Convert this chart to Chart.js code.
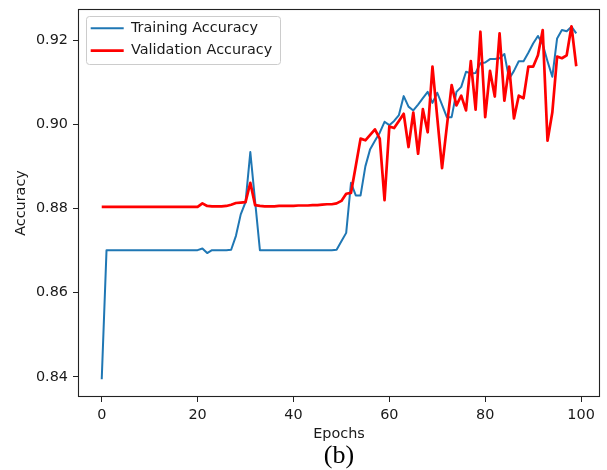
<!DOCTYPE html>
<html>
<head>
<meta charset="utf-8">
<script src="https://cdn.jsdelivr.net/npm/chart.js@4"></script>
<style>
html,body{margin:0;padding:0;background:#fff;}
canvas{display:block;}
</style>
</head>
<body>
<canvas id="c" width="607" height="470"></canvas>
<script>
// ---- data ----
const epochs = [
  0,1,2,3,4,5,6,7,8,9,10,11,12,13,14,15,16,17,18,19,
  20,21,22,23,24,25,26,27,28,29,30,31,32,33,34,35,36,37,38,39,
  40,41,42,43,44,45,46,47,48,49,50,51,52,53,54,55,56,57,58,59,
  60,61,62,63,64,65,66,67,68,69,70,71,72,73,74,75,76,77,78,79,
  80,81,82,83,84,85,86,87,88,89,90,91,92,93,94,95,96,97,98,99
];
const trainingAccuracy = [
  0.8394,
  0.8701,0.8701,0.8701,0.8701,0.8701,0.8701,0.8701,0.8701,0.8701,0.8701,
  0.8701,0.8701,0.8701,0.8701,0.8701,0.8701,0.8701,0.8701,0.8701,0.8701,
  0.8705,0.8694,0.8701,0.8701,0.8701,0.8701,0.8702,0.8735,0.8786,0.8815,
  0.8934,0.8817,0.8701,0.8701,0.8701,0.8701,0.8701,0.8701,0.8701,0.8701,
  0.8701,0.8701,0.8701,0.8701,0.8701,0.8701,0.8701,0.8701,0.8702,0.8722,
  0.8742,0.8861,0.8831,0.8831,0.8900,0.8941,0.8961,0.8980,0.9006,0.8998,
  0.9008,0.9022,0.9067,0.9042,0.9033,0.9047,0.9062,0.9077,0.9051,0.9075,
  0.9046,0.9017,0.9017,0.9077,0.9089,0.9125,0.9121,0.9122,0.9145,0.9147,
  0.9155,0.9155,0.9157,0.9167,0.9108,0.9127,0.9150,0.9150,0.9170,0.9192,
  0.9210,0.9190,0.9150,0.9113,0.9204,0.9224,0.9221,0.9232,0.9216
];
const validationAccuracy = [
  0.8804,
  0.8804,0.8804,0.8804,0.8804,0.8804,0.8804,0.8804,0.8804,0.8804,0.8804,
  0.8804,0.8804,0.8804,0.8804,0.8804,0.8804,0.8804,0.8804,0.8804,0.8804,
  0.8812,0.8806,0.8805,0.8805,0.8805,0.8806,0.8809,0.8813,0.8814,0.8815,
  0.8861,0.8808,0.8806,0.8805,0.8805,0.8805,0.8806,0.8806,0.8806,0.8806,
  0.8807,0.8807,0.8807,0.8808,0.8808,0.8809,0.8810,0.8810,0.8812,0.8818,
  0.8835,0.8837,0.8901,0.8966,0.8962,0.8975,0.8988,0.8966,0.8820,0.8995,
  0.8991,0.9008,0.9025,0.8946,0.9028,0.8930,0.9036,0.8981,0.9137,0.9016,
  0.8896,0.8995,0.9093,0.9045,0.9068,0.9033,0.9150,0.9035,0.9220,0.9017,
  0.9127,0.9066,0.9216,0.9056,0.9137,0.9014,0.9068,0.9062,0.9137,0.9137,
  0.9164,0.9224,0.8961,0.9028,0.9161,0.9157,0.9164,0.9233,0.9138
];
const xTickValues = [0, 20, 40, 60, 80, 100];
const xTickLabels = ['0', '20', '40', '60', '80', '100'];
const yTickValues = [0.84, 0.86, 0.88, 0.90, 0.92];
const yTickLabels = ['0.84', '0.86', '0.88', '0.90', '0.92'];
const seriesNames = ['Training Accuracy', 'Validation Accuracy'];

// ---- styling ----
const FONT = "'DejaVu Sans', sans-serif";
const FS = 14.4;
const TEXT = '#1a1a1a';
const SPINE = '#222222';
const LEGEND_DX = 4.7, LEGEND_DY = 4.1;

const framePlugin = {
  id: 'framePlugin',
  afterLayout(chart) {
    const lg = chart.legend, a = chart.chartArea;
    if (lg) {
      const w = lg.width, h = lg.height;
      lg.left = a.left + LEGEND_DX; lg.top = a.top + LEGEND_DY;
      lg.right = lg.left + w; lg.bottom = lg.top + h;
    }
  },
  beforeDraw(chart) {
    const {ctx, width, height} = chart;
    ctx.save();
    ctx.fillStyle = '#ffffff';
    ctx.fillRect(0, 0, width, height);
    const lg = chart.legend;
    const lo = chart.options.plugins.legend.labels;
    const fs = lo.font.size, pad = lo.padding, bw = lo.pointStyleWidth;
    ctx.font = fs + "px 'DejaVu Sans'";
    const maxW = Math.max(...chart.data.datasets.map(d => ctx.measureText(d.label).width));
    const x0 = lg.left + pad - 5;
    const x1 = lg.left + pad + bw + fs / 2 + maxW + 7;
    const c0 = lg.top + pad + fs / 2;
    const c1 = c0 + (chart.data.datasets.length - 1) * (fs + pad);
    const y0 = c0 - 12.3, y1 = c1 + 13.3;
    ctx.beginPath();
    ctx.roundRect(Math.round(x0) + 0.5, Math.round(y0) + 0.5, Math.round(x1 - x0), Math.round(y1 - y0), 3);
    ctx.fillStyle = 'rgba(255,255,255,0.8)';
    ctx.fill();
    ctx.strokeStyle = '#cccccc';
    ctx.lineWidth = 1;
    ctx.stroke();
    ctx.restore();
  },
  afterDraw(chart) {
    const {ctx, chartArea: a} = chart;
    ctx.save();
    ctx.strokeStyle = SPINE;
    ctx.lineWidth = 1.1;
    ctx.strokeRect(Math.round(a.left) + 0.5, Math.round(a.top) + 0.5,
                   Math.round(a.right - a.left) - 1, Math.round(a.bottom - a.top) - 1);
    ctx.restore();
  }
};

new Chart(document.getElementById('c'), {
  type: 'line',
  data: {
    labels: epochs,
    datasets: [
      {
        label: seriesNames[0],
        data: trainingAccuracy,
        borderColor: '#1f77b4',
        backgroundColor: '#1f77b4',
        borderWidth: 2,
        pointRadius: 0,
        tension: 0,
        borderJoinStyle: 'round',
        fill: false,
        order: 1
      },
      {
        label: seriesNames[1],
        data: validationAccuracy,
        borderColor: '#ff0000',
        backgroundColor: '#ff0000',
        borderWidth: 2.7,
        pointRadius: 0,
        tension: 0,
        borderJoinStyle: 'round',
        fill: false,
        order: 0
      }
    ]
  },
  options: {
    responsive: false,
    animation: false,
    events: [],
    layout: { padding: { top: 9, right: 7, bottom: 0, left: 0 } },
    scales: {
      x: {
        type: 'linear',
        min: -4.95,
        max: 103.95,
        afterBuildTicks: (s) => { s.ticks = xTickValues.map(v => ({ value: v })); },
        afterFit: (s) => { s.height = 45.9; s.paddingLeft = 0; s.paddingRight = 0; },
        ticks: {
          callback: (v) => xTickLabels[xTickValues.indexOf(v)],
          font: { family: FONT, size: FS },
          color: TEXT,
          padding: 4.5,
          maxRotation: 0,
          autoSkip: false
        },
        grid: { display: true, drawOnChartArea: false, drawTicks: true, tickLength: 5, color: SPINE, lineWidth: 1 },
        border: { display: false },
        title: { display: true, text: 'Epochs', font: { family: FONT, size: FS }, color: TEXT, padding: { top: 0, bottom: 0 } }
      },
      y: {
        type: 'linear',
        min: 0.8352,
        max: 0.9274,
        afterBuildTicks: (s) => { s.ticks = yTickValues.map(v => ({ value: v })); },
        afterFit: (s) => { s.width = 78; s.paddingTop = 0; s.paddingBottom = 0; },
        ticks: {
          callback: (v) => yTickLabels[yTickValues.indexOf(v)],
          font: { family: FONT, size: FS },
          color: TEXT,
          padding: 5,
          autoSkip: false
        },
        grid: { display: true, drawOnChartArea: false, drawTicks: true, tickLength: 5, color: SPINE, lineWidth: 1 },
        border: { display: false },
        title: { display: true, text: 'Accuracy', font: { family: FONT, size: FS }, color: TEXT, padding: { top: 13.1, bottom: 0 } }
      }
    },
    plugins: {
      legend: {
        display: true,
        position: 'chartArea',
        align: 'start',
        labels: {
          usePointStyle: true,
          pointStyle: 'line',
          pointStyleWidth: 33,
          font: { family: FONT, size: FS },
          color: TEXT,
          padding: 8,
          sort: (a, b) => a.datasetIndex - b.datasetIndex
        }
      },
      title: {
        display: true,
        text: '(b)',
        position: 'bottom',
        fullSize: false,
        font: { family: "'Liberation Serif', 'Times New Roman', serif", size: 26, weight: 'normal', lineHeight: 1.0 },
        color: '#000000',
        padding: { top: 0, bottom: 1.1 }
      },
      tooltip: { enabled: false }
    }
  },
  plugins: [framePlugin]
});
</script>
</body>
</html>
